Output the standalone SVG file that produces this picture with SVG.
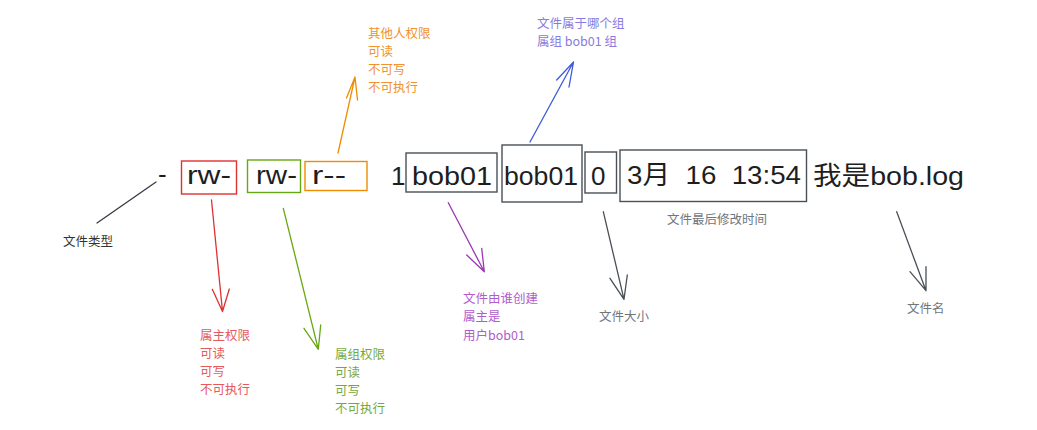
<svg xmlns="http://www.w3.org/2000/svg" width="1037" height="430" viewBox="0 0 1037 430">
<style>
.main{font-family:"Liberation Sans","Noto Sans CJK SC",sans-serif;font-size:26px;fill:#1e1e1e}
.lbl{font-family:"Noto Sans CJK SC","Noto Sans",sans-serif;font-size:12.5px}
.box{fill:none;stroke-width:1.4}
.gray{fill:#6f767d}
.red{fill:#e5585d}
.green{fill:#74a93f}
.orange{fill:#f0922e}
.blue{fill:#8a7be0}
.purple{fill:#b25ccd}
.ln{fill:none;stroke-width:1.3;stroke-linecap:round;stroke-linejoin:round}
</style>
<rect width="1037" height="430" fill="#ffffff"/>
<g id="type">
<text class="main" x="158" y="183">-</text>
<text class="lbl gray" x="63" y="246" style="fill:#333">文件类型</text>
</g>
<g id="owner-perm">
<rect class="box" x="181.5" y="161" width="55" height="33" stroke="#e03131"/>
<text class="main" x="187" y="184" textLength="44" lengthAdjust="spacingAndGlyphs">rw-</text>
<text class="lbl red" x="200" y="340">属主权限</text>
<text class="lbl red" x="200" y="358">可读</text>
<text class="lbl red" x="200" y="376">可写</text>
<text class="lbl red" x="200" y="394">不可执行</text>
</g>
<g id="group-perm">
<rect class="box" x="247.5" y="160" width="53" height="32.5" stroke="#66a80f"/>
<text class="main" x="256" y="184" textLength="41" lengthAdjust="spacingAndGlyphs">rw-</text>
<text class="lbl green" x="335" y="359">属组权限</text>
<text class="lbl green" x="335" y="377">可读</text>
<text class="lbl green" x="335" y="395">可写</text>
<text class="lbl green" x="335" y="413">不可执行</text>
</g>
<g id="other-perm">
<rect class="box" x="305" y="161.5" width="62" height="29" stroke="#f08c00"/>
<text class="main" x="312" y="184" textLength="34" lengthAdjust="spacingAndGlyphs">r--</text>
<text class="lbl orange" x="368" y="38">其他人权限</text>
<text class="lbl orange" x="368" y="56">可读</text>
<text class="lbl orange" x="368" y="74">不可写</text>
<text class="lbl orange" x="368" y="92">不可执行</text>
</g>
<g id="links">
<text class="main" x="391" y="185">1</text>
</g>
<g id="owner">
<rect class="box" x="406" y="153" width="91" height="39" stroke="#495057"/>
<text class="main" x="412" y="185" textLength="80" lengthAdjust="spacingAndGlyphs">bob01</text>
<text class="lbl purple" x="463" y="303">文件由谁创建</text>
<text class="lbl purple" x="463" y="321">属主是</text>
<text class="lbl purple" x="463" y="340">用户bob01</text>
</g>
<g id="group">
<rect class="box" x="502" y="145" width="80" height="57" stroke="#495057"/>
<text class="main" x="504" y="185" textLength="74" lengthAdjust="spacingAndGlyphs">bob01</text>
<text class="lbl blue" x="537" y="28">文件属于哪个组</text>
<text class="lbl blue" x="537" y="46">属组 bob01 组</text>
</g>
<g id="size">
<rect class="box" x="585" y="152" width="31.5" height="41" stroke="#495057"/>
<text class="main" x="591" y="185">0</text>
<text class="lbl gray" x="599" y="321">文件大小</text>
</g>
<g id="mtime">
<rect class="box" x="620" y="150" width="186.5" height="51.5" stroke="#495057"/>
<text class="main" x="627" y="184" textLength="174" lengthAdjust="spacingAndGlyphs" xml:space="preserve">3月  16  13:54</text>
<text class="lbl gray" x="667" y="224">文件最后修改时间</text>
</g>
<g id="filename">
<text class="main" x="813" y="185" textLength="151" lengthAdjust="spacingAndGlyphs">我是bob.log</text>
<text class="lbl gray" x="907" y="313">文件名</text>
</g>
<g id="connectors">
<path class="ln" stroke="#343a40" d="M97,223 L156,182"/>
<path class="ln" stroke="#e03131" d="M211.5,200 L222.5,311.5 M212.3,289.3 L222.5,311.5 L229.3,289"/>
<path class="ln" stroke="#66a80f" d="M283.3,208.3 L318.3,349.3 M304,328.3 L318.3,349.3 L320.7,325"/>
<path class="ln" stroke="#f08c00" d="M338,153 L355,77 M346.5,98 L355,77 L357.5,100"/>
<path class="ln" stroke="#3b5bdb" d="M530,142 L573.5,62 M556.7,80 L573.5,62 L569,87"/>
<path class="ln" stroke="#9c36b5" d="M448.3,202.7 L484.3,271.7 M466.7,255 L484.3,271.7 L481.7,248.3"/>
<path class="ln" stroke="#495057" d="M603.3,211.7 L624,299.3 M610,278.3 L624,299.3 L627.3,275"/>
<path class="ln" stroke="#495057" d="M896.7,211.7 L926,290.7 M910,271.7 L926,290.7 L926,266.7"/>
</g>
</svg>
